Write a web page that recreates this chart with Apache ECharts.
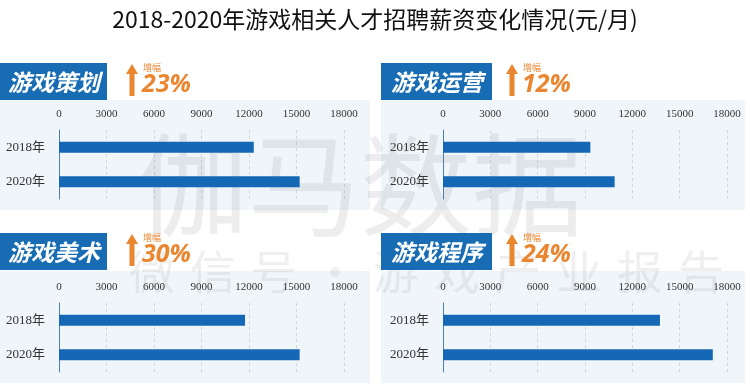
<!DOCTYPE html>
<html><head><meta charset="utf-8">
<script src="https://cdn.jsdelivr.net/npm/echarts@6/dist/echarts.min.js"></script>
<style>html,body{margin:0;padding:0;background:#fff}#c{width:750px;height:388px}</style>
</head><body><div id="c"></div>
<script>
const years = ['2018年', '2020年'];
const planning = [12300, 15200];
const operation = [9340, 10880];
const art = [11750, 15200];
const programming = [13750, 17100];
const panelTitles = ['游戏策划', '游戏运营', '游戏美术', '游戏程序'];
const growthLabels = ['23%', '12%', '30%', '24%'];
const axisMax = 18000;
const axisStep = 3000;
const chartTitle = '2018-2020年游戏相关人才招聘薪资变化情况(元/月)';
const watermarkMain = '伽马数据';
const watermarkSub = ['微', '信', '号', '·', '游', '戏', '产', '业', '报', '告'];

const seriesData = [planning, operation, art, programming];
const panels = [
  {x: 0, y: 40, gl: 59, gw: 285},
  {x: 381, y: 40, gl: 443, gw: 284},
  {x: 0, y: 210, gl: 59, gw: 285},
  {x: 381, y: 210, gl: 443, gw: 284}
];
const blue = '#1468b6';
const orange = '#ea8630';

const chart = echarts.init(document.getElementById('c'));
const grids = [], xAxes = [], yAxes = [], series = [], graphics = [];

panels.forEach((p, i) => {
  const gridTop = p.y + 90 + (i >= 2 ? 3 : 0);
  grids.push({left: p.gl, width: p.gw, top: gridTop, height: 69});
  xAxes.push({
    type: 'value', gridIndex: i, position: 'top', min: 0, max: axisMax, interval: axisStep,
    axisLine: {show: false}, axisTick: {show: false},
    splitLine: {show: true, lineStyle: {type: [3, 3], color: '#cfd6de', width: 1}},
    axisLabel: {color: '#333', fontSize: 11, fontFamily: 'Liberation Serif', margin: 10, formatter: v => String(v)}
  });
  yAxes.push({
    type: 'category', gridIndex: i, data: years, inverse: true,
    axisLine: {show: true, lineStyle: {color: '#4a80b8', width: 1}},
    axisTick: {show: false},
    axisLabel: {color: '#333', fontSize: 13, fontFamily: 'Liberation Serif, Noto Sans CJK SC', margin: 14}
  });
  series.push({
    type: 'bar', xAxisIndex: i, yAxisIndex: i, data: seriesData[i], barWidth: 11,
    itemStyle: {color: blue}, z: 3, silent: true
  });
  graphics.push({
    type: 'rect', z: -10, silent: true,
    shape: {x: p.x, y: p.y + 60 + (i >= 2 ? 1 : 0), width: i % 2 === 0 ? 370 : 364, height: i >= 2 ? 112 : 110},
    style: {fill: '#f0f5fa'}
  });
  const by = p.y + 23;
  graphics.push({
    type: 'rect', z: 5, silent: true,
    shape: {x: p.x, y: by, width: 111 - (i % 2 === 0 ? 4 : 0), height: 37},
    style: {fill: '#176cb4'}
  });
  graphics.push({
    type: 'text', z: 6, silent: true,
    x: p.x + (i % 2 === 0 ? 54 : 56), y: by + 19,
    style: {text: panelTitles[i], fill: '#fff', font: 'italic bold 23px "Noto Sans CJK SC"', align: 'center', verticalAlign: 'middle'}
  });
  const ax = p.x + (i % 2 === 0 ? 132 : 131);
  graphics.push({
    type: 'polygon', z: 6, silent: true,
    shape: {points: [[ax, by + 1], [ax + 6, by + 11], [ax + 2.5, by + 11], [ax + 2.5, by + 33], [ax - 2.5, by + 33], [ax - 2.5, by + 11], [ax - 6, by + 11]]},
    style: {fill: orange}
  });
  graphics.push({
    type: 'text', z: 6, silent: true, x: ax + 11, y: by + 5,
    style: {text: '增幅', fill: orange, font: '9px "Noto Sans CJK SC"', verticalAlign: 'middle'}
  });
  graphics.push({
    type: 'text', z: 6, silent: true, x: ax + 10, y: by + 22,
    style: {text: growthLabels[i], fill: orange, font: 'italic bold 25px "Noto Sans", sans-serif', verticalAlign: 'middle'}
  });
});

graphics.push({
  type: 'text', z: 1, silent: true, x: 360, y: 185,
  style: {text: watermarkMain, fill: 'rgba(110,110,110,0.12)', font: '112px "Noto Sans CJK SC"', align: 'center', verticalAlign: 'middle'}
});
watermarkSub.forEach((ch, k) => {
  graphics.push({
    type: 'text', z: 1, silent: true, x: 152 + k * 61, y: 272,
    style: {text: ch, fill: 'rgba(110,110,110,0.11)', font: '46px "Noto Sans CJK SC"', align: 'center', verticalAlign: 'middle'}
  });
});

chart.setOption({
  animation: false,
  backgroundColor: '#fff',
  title: {
    text: chartTitle, left: 'center', top: 3,
    textStyle: {color: '#111', fontSize: 23, fontWeight: 'normal', fontFamily: '"Noto Sans CJK SC"'}
  },
  grid: grids, xAxis: xAxes, yAxis: yAxes, series: series, graphic: graphics
});
</script></body></html>
